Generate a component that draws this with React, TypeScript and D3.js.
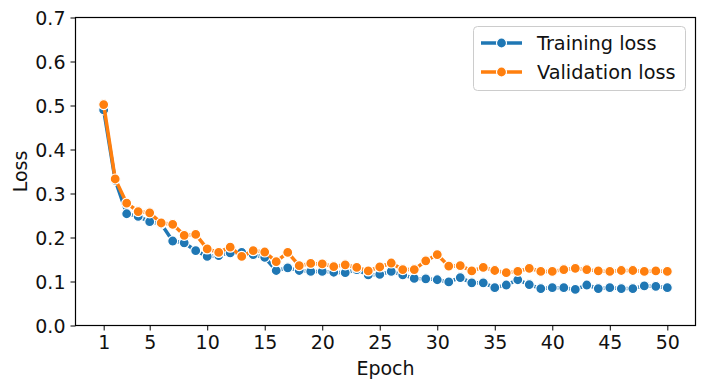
import React, { useEffect, useRef } from "react";
import * as d3 from "d3";

const epochs = d3.range(1, 51);
const trainingLoss = [
  0.490, 0.330, 0.254, 0.248, 0.236, 0.231, 0.192, 0.188, 0.170, 0.157,
  0.159, 0.165, 0.166, 0.161, 0.155, 0.125, 0.131, 0.125, 0.123, 0.123,
  0.121, 0.120, 0.127, 0.115, 0.116, 0.123, 0.115, 0.107, 0.106, 0.104,
  0.099, 0.109, 0.097, 0.097, 0.086, 0.092, 0.104, 0.093, 0.084, 0.086,
  0.086, 0.082, 0.092, 0.084, 0.086, 0.084, 0.084, 0.090, 0.089, 0.086,
];
const validationLoss = [
  0.502, 0.333, 0.278, 0.259, 0.256, 0.233, 0.230, 0.205, 0.207, 0.174,
  0.166, 0.178, 0.157, 0.170, 0.167, 0.145, 0.166, 0.136, 0.141, 0.140,
  0.134, 0.138, 0.132, 0.124, 0.133, 0.142, 0.127, 0.127, 0.147, 0.161,
  0.135, 0.136, 0.124, 0.132, 0.125, 0.120, 0.123, 0.130, 0.123, 0.123,
  0.127, 0.130, 0.127, 0.124, 0.123, 0.125, 0.125, 0.123, 0.124, 0.123,
];
const xTicks = [1, 5, 10, 15, 20, 25, 30, 35, 40, 45, 50];
const yTicks = [0, 0.1, 0.2, 0.3, 0.4, 0.5, 0.6, 0.7];
const seriesNames = ["Training loss", "Validation loss"];
const seriesColors = ["#1f77b4", "#ff7f0e"];

const W = 705;
const H = 388;
const left = 75.5;
const right = 695.5;
const top = 17.5;
const bottom = 325.5;
const font = "'DejaVu Sans', sans-serif";
const ink = "#111";

export default function App() {
  const svgRef = useRef<SVGSVGElement>(null);

  useEffect(() => {
    document.body.style.margin = "0";
    const svg = d3.select(svgRef.current);
    svg.selectAll("*").remove();

    // matplotlib style 5% margins on x
    const x = d3.scaleLinear().domain([1 - 2.45, 50 + 2.45]).range([left, right]);
    const y = d3.scaleLinear().domain([0, 0.7]).range([bottom, top]);

    const xAxis = d3
      .axisBottom(x)
      .tickValues(xTicks)
      .tickSize(5)
      .tickPadding(5)
      .tickFormat((d) => String(d));
    const gx = svg.append("g").attr("transform", `translate(0,${bottom})`).call(xAxis);
    gx.select(".domain").remove();

    const yAxis = d3
      .axisLeft(y)
      .tickValues(yTicks)
      .tickSize(5)
      .tickPadding(5)
      .tickFormat(d3.format(".1f"));
    const gy = svg.append("g").attr("transform", `translate(${left},0)`).call(yAxis);
    gy.select(".domain").remove();

    svg.selectAll(".tick text").attr("font-family", font).attr("font-size", 19).attr("fill", ink);
    svg.selectAll(".tick line").attr("stroke", "#000").attr("stroke-width", 1);
    gy.selectAll(".tick text").attr("dy", "0.36em");

    // series
    const data = [trainingLoss, validationLoss];
    const line = d3
      .line<number>()
      .x((_, i) => x(epochs[i]))
      .y((d) => y(d));

    data.forEach((vals, si) => {
      const g = svg.append("g");
      g.append("path")
        .attr("d", line(vals))
        .attr("fill", "none")
        .attr("stroke", seriesColors[si])
        .attr("stroke-width", 3.5)
        .attr("stroke-linejoin", "round");
      g.selectAll("circle")
        .data(vals)
        .join("circle")
        .attr("cx", (_, i) => x(epochs[i]))
        .attr("cy", (d) => y(d))
        .attr("r", 5)
        .attr("fill", seriesColors[si])
        .attr("stroke", "#fff")
        .attr("stroke-width", 1.2);
    });

    // spines
    svg.append("rect")
      .attr("x", left)
      .attr("y", top)
      .attr("width", right - left)
      .attr("height", bottom - top)
      .attr("fill", "none")
      .attr("stroke", "#000")
      .attr("stroke-width", 1.2);

    // axis labels
    svg.append("text")
      .attr("x", (left + right) / 2)
      .attr("y", 375)
      .attr("text-anchor", "middle")
      .attr("font-family", font)
      .attr("font-size", 19)
      .attr("fill", ink)
      .text("Epoch");
    svg.append("text")
      .attr("transform", `translate(27,${(top + bottom) / 2}) rotate(-90)`)
      .attr("text-anchor", "middle")
      .attr("font-family", font)
      .attr("font-size", 19)
      .attr("fill", ink)
      .text("Loss");

    // legend
    const lg = svg.append("g");
    lg.append("rect")
      .attr("x", 473.5)
      .attr("y", 26.5)
      .attr("width", 212)
      .attr("height", 64)
      .attr("rx", 4)
      .attr("fill", "#fff")
      .attr("fill-opacity", 0.8)
      .attr("stroke", "#cccccc");
    seriesNames.forEach((name, i) => {
      const ry = 43 + i * 29;
      lg.append("line")
        .attr("x1", 481)
        .attr("x2", 522)
        .attr("y1", ry)
        .attr("y2", ry)
        .attr("stroke", seriesColors[i])
        .attr("stroke-width", 3.5);
      lg.append("circle")
        .attr("cx", 501.5)
        .attr("cy", ry)
        .attr("r", 5)
        .attr("fill", seriesColors[i])
        .attr("stroke", "#fff")
        .attr("stroke-width", 1.2);
      lg.append("text")
        .attr("x", 537)
        .attr("y", ry)
        .attr("dy", "0.36em")
        .attr("font-family", font)
        .attr("font-size", 19.3)
        .attr("fill", ink)
        .text(name);
    });
  }, []);

  return (
    <svg
      ref={svgRef}
      width={W}
      height={H}
      style={{ position: "absolute", left: 0, top: 0, background: "#fff" }}
    />
  );
}
